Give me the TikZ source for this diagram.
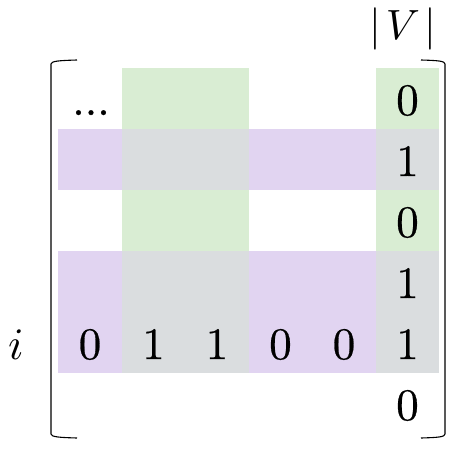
\RequirePackage{fix-cm}
\documentclass[tikz,border=0pt]{standalone}
\usepackage{fontspec}
\setmainfont{lmroman10-regular.otf}[ItalicFont=lmroman10-italic.otf]
\newfontfamily\dfont{lmroman10-regular.otf}[FakeBold=0.6]
\definecolor{cgreen}{HTML}{D9EDD3}
\definecolor{cpurple}{HTML}{E1D4F1}
\definecolor{cgray}{HTML}{DADDDF}
\tikzset{
  cell/.style={inner sep=0pt, anchor=base, font=\dfont\fontsize{45}{52}\selectfont},
  lbl/.style={inner sep=0pt, anchor=base, scale=4.5, font=\fontsize{10}{12}\selectfont},
  brk/.style={line width=1.1pt, line join=round},
}
\begin{document}
\begin{tikzpicture}[x=1pt,y=-1pt]
\useasboundingbox (0,0) rectangle (453,453);
% green columns rows 1-3
\fill[cgreen] (122,68) rectangle (249,251);
\fill[cgreen] (376,68) rectangle (439,251);
% purple rows
\fill[cpurple] (58,129) rectangle (376,190);
\fill[cpurple] (58,251) rectangle (376,373);
% gray intersections
\fill[cgray] (122,129) rectangle (249,190);
\fill[cgray] (376,129) rectangle (439,190);
\fill[cgray] (122,251) rectangle (249,373);
\fill[cgray] (376,251) rectangle (439,373);
% brackets
\draw[brk] (77,60) .. controls (60,60.5) and (51,61) .. (51,64) -- (51,434) .. controls (51,437) and (60,437.5) .. (77,438);
\draw[brk] (421,60) .. controls (438,60.5) and (445,61) .. (445,64) -- (445,434) .. controls (445,437) and (438,437.5) .. (421,438);
% entries
\node[cell] (dots) at (91,115) {.{}.{}.};
\node[cell] (r1) at (407.5,115) {0};
\node[cell] (r2) at (407.5,176) {1};
\node[cell] (r3) at (407.5,237) {0};
\node[cell] (r4) at (407.5,298) {1};
\node[cell] (c1) at (90,359) {0};
\node[cell] (c2) at (153.5,359) {1};
\node[cell] (c3) at (217,359) {1};
\node[cell] (c4) at (280.5,359) {0};
\node[cell] (c5) at (344,359) {0};
\node[cell] (r5) at (407.5,359) {1};
\node[cell] (r6) at (407.5,420) {0};
\node[lbl] (ilab) at (16,359) {$i$};
\node[lbl, scale=0.94] (vlab) at (403,39) {$|\mkern2mu V\mkern2mu|$};
\end{tikzpicture}
\end{document}
